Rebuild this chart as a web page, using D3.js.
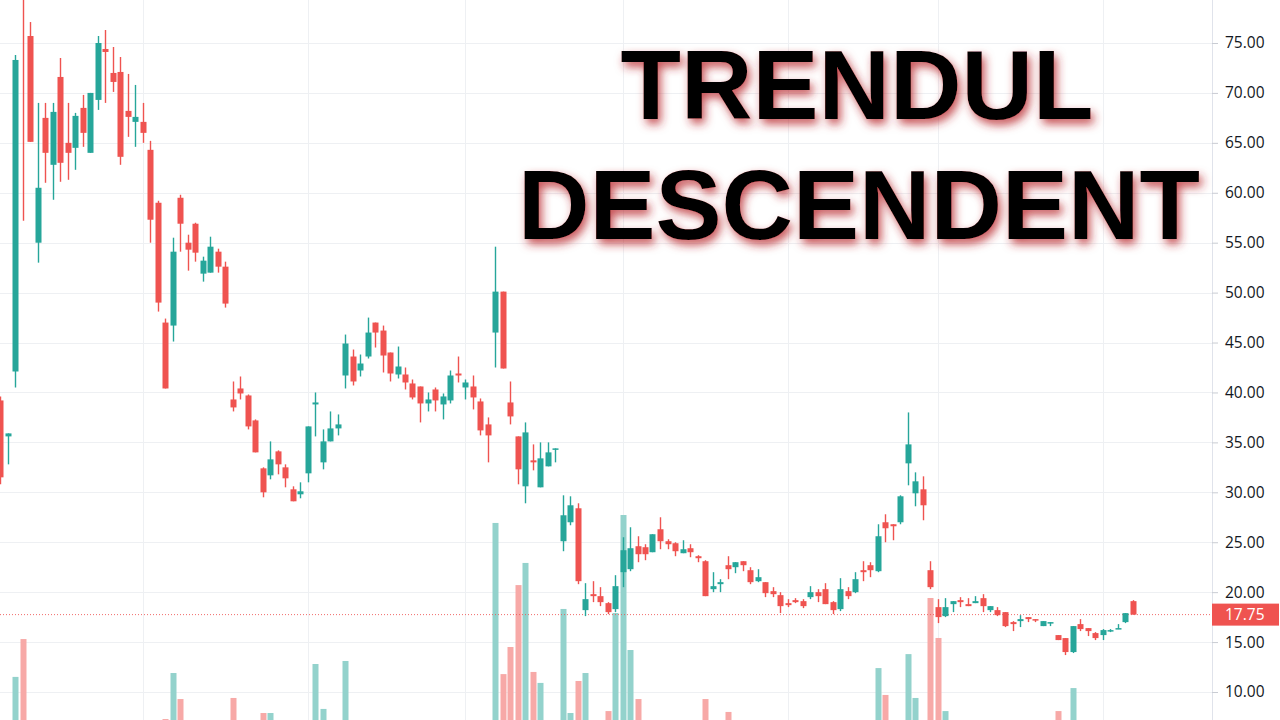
<!DOCTYPE html>
<html><head><meta charset="utf-8">
<script src="https://cdn.jsdelivr.net/npm/d3@7"></script>
<style>html,body{margin:0;padding:0;background:#fff;overflow:hidden}</style>
</head><body><svg id="c" width="1280" height="720"></svg>
<script>
const opens = [
39.2,35.6,42.1,83.0,75.7,55.0,67.5,62.8,71.6,65.0,
64.5,68.5,64.0,69.3,74.4,72.0,72.1,68.2,67.1,67.1,
64.3,59.0,47.0,46.7,59.5,55.0,56.9,51.9,52.0,54.1,
52.6,39.3,40.4,39.7,37.2,32.4,31.7,34.1,32.5,30.3,
29.8,31.9,38.8,33.0,35.1,36.4,41.7,43.6,42.2,43.6,
47.0,46.2,44.0,41.8,41.8,40.9,40.6,38.9,40.3,38.8,
39.2,41.9,40.5,40.6,39.1,36.8,46.0,50.1,39.0,35.6,
30.6,33.2,30.5,32.6,34.3,25.1,27.0,28.4,18.2,19.8,
19.6,18.9,18.3,22.0,22.3,24.6,24.5,24.0,26.3,25.1,
24.9,23.9,24.4,23.6,23.1,20.3,20.8,22.7,22.5,23.1,
22.2,21.1,21.0,20.1,19.7,18.9,19.2,19.1,19.5,20.0,
20.3,19.0,18.3,20.1,20.0,22.2,22.7,22.1,27.0,26.8,
27.0,32.9,29.9,30.3,22.2,18.5,17.6,18.8,19.2,18.8,
18.9,19.4,18.2,18.2,18.0,17.0,17.1,17.5,17.3,16.6,
16.9,15.7,15.4,14.0,16.8,16.4,15.9,15.7,16.1,16.3,
17.0,19.1];
const highs = [
39.6,35.9,73.8,84.0,77.1,69.0,69.0,69.0,73.5,69.0,
68.0,69.8,70.0,75.7,76.3,74.6,73.6,71.9,70.8,69.0,
65.2,59.2,47.4,55.5,59.8,55.8,57.0,53.6,55.6,54.4,
53.1,41.1,41.6,39.8,37.3,32.5,35.1,34.2,32.8,30.6,
31.0,36.6,40.0,36.3,38.1,37.8,45.8,44.3,43.8,47.5,
47.0,46.7,44.0,44.6,42.5,41.3,40.6,40.0,40.5,39.9,
42.2,43.6,41.3,41.7,39.4,37.5,54.6,50.1,41.1,35.6,
37.0,34.8,35.0,35.0,34.4,29.7,29.6,28.9,20.9,21.1,
20.5,19.0,21.7,25.5,26.5,25.6,24.8,25.8,27.5,25.3,
25.0,25.2,24.8,23.7,23.2,22.0,21.3,23.6,23.0,23.1,
22.5,22.3,21.0,20.5,20.0,19.3,19.4,19.3,20.6,20.3,
20.9,19.1,21.4,20.5,22.0,23.1,23.0,26.8,27.8,26.8,
29.7,38.0,32.0,31.6,23.1,19.3,19.4,19.1,19.5,19.4,
19.6,19.8,18.6,18.5,18.0,17.1,17.7,17.5,17.3,17.1,
17.0,15.7,15.4,16.6,17.3,16.4,16.0,16.3,16.3,16.8,
17.9,19.2];
const lows = [
30.8,32.8,40.5,57.2,65.1,53.0,61.0,59.3,61.1,61.3,
62.3,64.6,64.0,68.3,69.0,70.1,62.8,65.6,64.6,65.0,
55.0,48.1,40.4,45.1,54.1,52.2,53.1,51.1,52.0,52.0,
48.5,38.1,39.3,36.3,34.0,29.5,31.3,31.8,30.5,29.1,
29.4,31.0,35.6,32.3,35.1,35.7,40.4,40.7,41.6,43.4,
44.5,42.0,41.1,41.4,40.3,39.3,37.0,38.1,38.1,37.3,
38.9,41.0,39.3,38.3,35.7,33.0,42.5,42.4,36.8,30.8,
28.9,32.2,30.5,32.6,33.0,24.1,26.7,20.8,17.6,19.0,
18.6,17.8,18.0,20.5,22.1,23.0,23.2,24.0,24.3,24.3,
23.6,23.9,23.5,23.0,19.6,20.0,20.0,21.3,21.9,22.1,
20.8,21.0,19.5,19.5,17.9,18.5,18.9,18.4,19.3,19.0,
18.8,17.8,18.1,19.3,19.9,21.1,21.5,22.0,25.0,25.2,
26.8,30.7,28.6,27.2,20.3,16.9,17.5,18.0,18.5,18.6,
18.9,18.0,18.0,17.6,16.5,16.1,16.5,17.0,17.0,16.6,
16.6,15.2,13.7,13.9,16.1,15.6,15.2,15.2,16.0,16.3,
16.9,17.75];
const closes = [
31.5,35.9,73.3,80.6,65.1,60.5,64.0,68.1,63.0,64.0,
67.7,66.0,70.0,75.0,74.1,71.1,63.6,67.6,67.6,66.0,
57.3,49.0,40.4,54.1,56.9,54.3,54.0,53.2,54.6,52.6,
48.9,38.5,39.9,36.6,34.0,30.0,33.3,32.8,31.4,29.1,
30.1,36.6,39.0,35.1,36.4,36.8,44.9,41.1,42.9,46.0,
46.0,43.7,41.9,42.6,41.0,39.5,38.9,39.3,39.2,39.6,
41.7,41.7,41.0,39.5,36.2,35.7,50.1,42.4,37.6,32.3,
36.0,33.0,33.4,34.0,34.4,27.7,28.7,21.1,19.3,19.6,
19.0,18.0,20.6,24.2,24.4,23.8,23.8,25.8,25.1,24.8,
24.1,24.3,24.0,23.4,19.6,20.6,21.0,22.3,23.0,22.7,
21.0,21.5,19.9,19.8,18.6,18.7,19.0,18.6,20.0,19.6,
18.8,18.2,20.3,19.6,21.3,22.0,22.2,25.6,26.4,26.6,
29.6,34.8,31.1,28.7,20.5,17.5,18.5,19.1,19.0,18.6,
19.1,18.6,18.6,17.7,16.6,16.8,17.3,17.3,17.2,17.1,
17.0,15.2,14.0,16.6,16.3,16.1,15.4,16.2,16.2,16.4,
17.9,17.75];
const volumes = [
3,3,24.7,42.3,4,3,3,3,4,3,
3,3,3,4,3,3,4,3,3,3,
4,4,5.1,26.5,14.4,3,3,3,3,3,
4,14.9,3,4,4,7.9,7.9,3,3,3,
3,4,30.7,9.8,3,3,32.1,4,3,4,
3,3,3,3,3,3,3,3,3,3,
3,3,3,3,4,4,96.3,26,38.6,67.4,
77.7,27,21.9,4,3,56.3,7.9,22.8,26.5,4,
4,8.8,54.4,100,37.2,14.4,3,3,4,3,
3,3,3,3,14.4,3,3,8.4,3,3,
3,3,3,3,4,3,3,3,3,3,
4,3,4,3,3,3,3,28.8,16.3,4,
4,35.3,14.9,4,61.4,42.8,8.8,3,3,3,
3,3,3,3,4,3,3,3,3,3,
3,8.8,4,19.5,3,3,3,3,3,3,
3,3];
const priceTicks = [10,15,20,25,30,35,40,45,50,55,60,65,70,75,80];
const monthStarts = [19,41,62,83,105,125,147];
const lastPrice = 17.75;
const titleLines = ["TRENDUL","DESCENDENT"];

const W = 1280, H = 720, axisX = 1212;
const UP = "#26a69a", DOWN = "#ef5350";
const UPV = "#93d2cc", DOWNV = "#f7a9a7";

const svg = d3.select("#c");
const idx = d3.range(opens.length);
const x = d3.scaleLinear().domain([0, opens.length - 1]).range([0, 7.5 * (opens.length - 1)]);
const y = d3.scaleLinear().domain([10, 75]).range([692, 43]);
const yv = d3.scaleLinear().domain([0, 100]).range([730, 515]);

svg.append("rect").attr("width", W).attr("height", H).attr("fill", "#fff");

// grid
const grid = svg.append("g");
grid.selectAll("line.h").data(priceTicks).join("line")
  .attr("x1", 0).attr("x2", axisX).attr("y1", d => Math.round(y(d)) + 0.5).attr("y2", d => Math.round(y(d)) + 0.5)
  .attr("stroke", "#eef0f3").attr("stroke-width", 1);
grid.selectAll("line.v").data(monthStarts).join("line")
  .attr("y1", 0).attr("y2", H).attr("x1", d => Math.round(x(d)) + 0.5).attr("x2", d => Math.round(x(d)) + 0.5)
  .attr("stroke", "#eef0f3").attr("stroke-width", 1);

// volume
const bw = 6;
svg.append("g").selectAll("rect").data(idx).join("rect")
  .attr("x", i => Math.round(x(i)) + 0.5 - bw / 2).attr("width", bw)
  .attr("y", i => yv(volumes[i])).attr("height", i => yv(0) - yv(volumes[i]))
  .attr("fill", i => closes[i] >= opens[i] ? UPV : DOWNV);

// price line
svg.append("line").attr("x1", 0).attr("x2", axisX)
  .attr("y1", y(lastPrice)).attr("y2", y(lastPrice))
  .attr("stroke", DOWN).attr("stroke-width", 1).attr("stroke-dasharray", "1,2").attr("opacity", 0.85);

// candles
const cg = svg.append("g");
cg.selectAll("line").data(idx).join("line")
  .attr("x1", i => Math.round(x(i)) + 0.5).attr("x2", i => Math.round(x(i)) + 0.5)
  .attr("y1", i => y(highs[i])).attr("y2", i => y(lows[i]))
  .attr("stroke", i => closes[i] >= opens[i] ? UP : DOWN).attr("stroke-width", 1.4);
cg.selectAll("rect").data(idx).join("rect")
  .attr("x", i => Math.round(x(i)) + 0.5 - bw / 2).attr("width", bw)
  .attr("y", i => y(Math.max(opens[i], closes[i])))
  .attr("height", i => Math.max(1.5, Math.abs(y(opens[i]) - y(closes[i]))))
  .attr("fill", i => closes[i] >= opens[i] ? UP : DOWN);

// axis panel
svg.append("rect").attr("x", axisX).attr("y", 0).attr("width", W - axisX).attr("height", H).attr("fill", "#fff");
const ax = svg.append("g").attr("transform", `translate(${axisX},0)`)
  .call(d3.axisRight(y).tickValues(priceTicks).tickFormat(d3.format(".2f")).tickSize(6).tickPadding(7));
ax.select(".domain").attr("stroke", "#e0e3eb").attr("d", `M0.5,0V${H}`);
ax.selectAll(".tick line").attr("stroke", "#c9ccd3");
ax.selectAll(".tick text").attr("fill", "#131722").attr("font-family", "'Open Sans', 'Liberation Sans', sans-serif")
  .attr("font-size", 15.5);

// last price label
svg.append("rect").attr("x", axisX).attr("y", y(lastPrice) - 11).attr("width", W - axisX - 1).attr("height", 22)
  .attr("fill", DOWN);
svg.append("text").attr("x", axisX + 13).attr("y", y(lastPrice)).attr("dy", "0.35em")
  .attr("fill", "#fff").attr("font-family", "'Open Sans', 'Liberation Sans', sans-serif").attr("font-size", 15.5)
  .text(d3.format(".2f")(lastPrice));

// title with red glow
const defs = svg.append("defs");
const f = defs.append("filter").attr("id", "glow").attr("x", "-10%").attr("y", "-30%").attr("width", "120%").attr("height", "170%");
f.append("feGaussianBlur").attr("in", "SourceAlpha").attr("stdDeviation", 5).attr("result", "b");
f.append("feOffset").attr("in", "b").attr("dx", 3).attr("dy", 5).attr("result", "o");
f.append("feFlood").attr("flood-color", "#b8262b").attr("flood-opacity", 0.8);
f.append("feComposite").attr("in2", "o").attr("operator", "in").attr("result", "s");
const fm = f.append("feMerge");
fm.append("feMergeNode").attr("in", "s");
fm.append("feMergeNode").attr("in", "SourceGraphic");

const titlePos = [[857, 119], [859, 239]];
svg.append("g").attr("filter", "url(#glow)").selectAll("text").data(titleLines).join("text")
  .attr("x", (d, i) => titlePos[i][0]).attr("y", (d, i) => titlePos[i][1])
  .attr("text-anchor", "middle")
  .attr("font-family", "'Liberation Sans', Arial, sans-serif").attr("font-weight", "bold")
  .attr("font-size", 99).attr("fill", "#050505")
  .text(d => d);
</script></body></html>
